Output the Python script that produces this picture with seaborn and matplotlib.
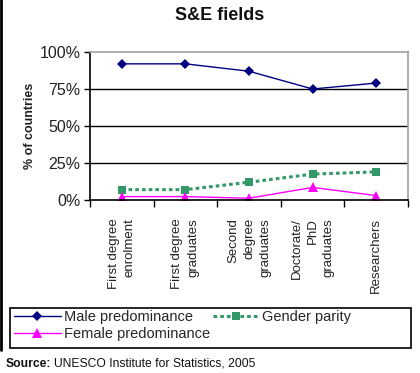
import pandas as pd
import matplotlib.pyplot as plt
import seaborn as sns
from matplotlib.lines import Line2D
from matplotlib.patches import Rectangle
from matplotlib.ticker import FixedLocator, PercentFormatter

# --- dados ---
categorias = ['First degree\nenrolment', 'First degree\ngraduates',
              'Second\ndegree\ngraduates', 'Doctorate/\nPhD\ngraduates',
              'Researchers']
male = [92, 92, 87, 75, 79]
parity = [7, 7, 12, 17.5, 19]
female = [2.3, 2.3, 1.2, 8.5, 3]
series_names = ['Male predominance', 'Gender parity', 'Female predominance']

sns.set_theme(style='white')
plt.rcParams['font.family'] = ['Liberation Sans', 'DejaVu Sans']

fig = plt.figure(figsize=(4.2, 3.73), dpi=100)
ax = fig.add_axes([90 / 420, 1 - 200 / 373, 318 / 420, 148 / 373])

x = list(range(len(categorias)))
df = pd.DataFrame({'x': x, 'male': male, 'parity': parity, 'female': female})

sns.lineplot(data=df, x='x', y='male', ax=ax, color='#000080', lw=1,
             marker='D', markersize=5.5, markeredgewidth=0, sort=False)
sns.lineplot(data=df, x='x', y='parity', ax=ax, color='#339966', lw=2.2,
             linestyle=(0, (1.2, 1.0)), marker='s', markersize=6,
             markeredgewidth=0, sort=False)
sns.lineplot(data=df, x='x', y='female', ax=ax, color='#FF00FF', lw=1,
             marker='^', markersize=7, markeredgewidth=0, sort=False)

ax.set_xlim(-0.5, len(categorias) - 0.5)
ax.set_ylim(0, 100)
ax.set_xlabel('')
ax.set_ylabel('')

# eixo y
ax.yaxis.set_major_locator(FixedLocator([0, 25, 50, 75, 100]))
ax.yaxis.set_major_formatter(PercentFormatter(decimals=0))
ax.tick_params(axis='y', direction='out', length=4, width=1, color='black',
               labelsize=11.5, labelcolor='#222222', pad=3, left=True)
for yv in [25, 50, 75]:
    ax.axhline(yv, color='black', lw=1, zorder=0)

# eixo x: rótulos no centro, ticks entre categorias
ax.set_xticks(x)
ax.set_xticklabels(categorias, rotation=90, fontsize=9.5, color='#222222',
                   va='top', ha='center', multialignment='right',
                   linespacing=1.45)
ax.set_xticks([i - 0.5 for i in range(len(categorias) + 1)], minor=True)
ax.tick_params(axis='x', which='major', length=0, pad=13)
ax.tick_params(axis='x', which='minor', direction='out', length=5, width=1,
               color='black', bottom=True)

for s in ['left', 'bottom']:
    ax.spines[s].set_color('black')
    ax.spines[s].set_linewidth(1.2)
for s in ['top', 'right']:
    ax.spines[s].set_color('#a0a0a0')
    ax.spines[s].set_linewidth(1.2)

# títulos e textos
fig.text(220 / 420, 1 - 15 / 373, 'S&E fields', fontsize=13, weight='bold',
         ha='center', va='center', color='#111111')
fig.text(30 / 420, 1 - 126 / 373, '% of countries', fontsize=9,
         weight='bold', rotation=90, ha='center', va='center',
         color='#222222')
fig.text(6 / 420, 1 - 364 / 373, 'Source:', fontsize=8.7, weight='bold',
         ha='left', va='center', color='#111111')
fig.text(54 / 420, 1 - 364 / 373, 'UNESCO Institute for Statistics, 2005',
         fontsize=8.7, ha='left', va='center', color='#111111')

# legenda
handles = [
    Line2D([], [], color='#000080', lw=1, marker='D', markersize=5,
           markeredgewidth=0),
    Line2D([], [], color='#FF00FF', lw=1, marker='^', markersize=7,
           markeredgewidth=0),
    Line2D([], [], color='#339966', lw=2.2, linestyle=(0, (1.2, 1.0)),
           marker='s', markersize=6, markeredgewidth=0),
]
labels = [series_names[0], series_names[2], series_names[1]]
fig.legend(handles, labels, loc='upper left', ncol=2,
           bbox_to_anchor=(14 / 420, 1 - 310 / 373),
           fontsize=10.5, frameon=False, handlelength=3.2,
           handletextpad=0.2, borderpad=0, labelspacing=0.2,
           borderaxespad=0, columnspacing=0.2)
fig.add_artist(Rectangle((10 / 420, 1 - 348 / 373), 401 / 420, 40 / 373,
                         transform=fig.transFigure, fill=False,
                         edgecolor='black', lw=1.2))

# borda esquerda da figura
fig.add_artist(Line2D([1 / 420, 1 / 420], [1 - 350 / 373, 1],
                      color='black', lw=2, transform=fig.transFigure))

fig.savefig('out.png', dpi=100)
